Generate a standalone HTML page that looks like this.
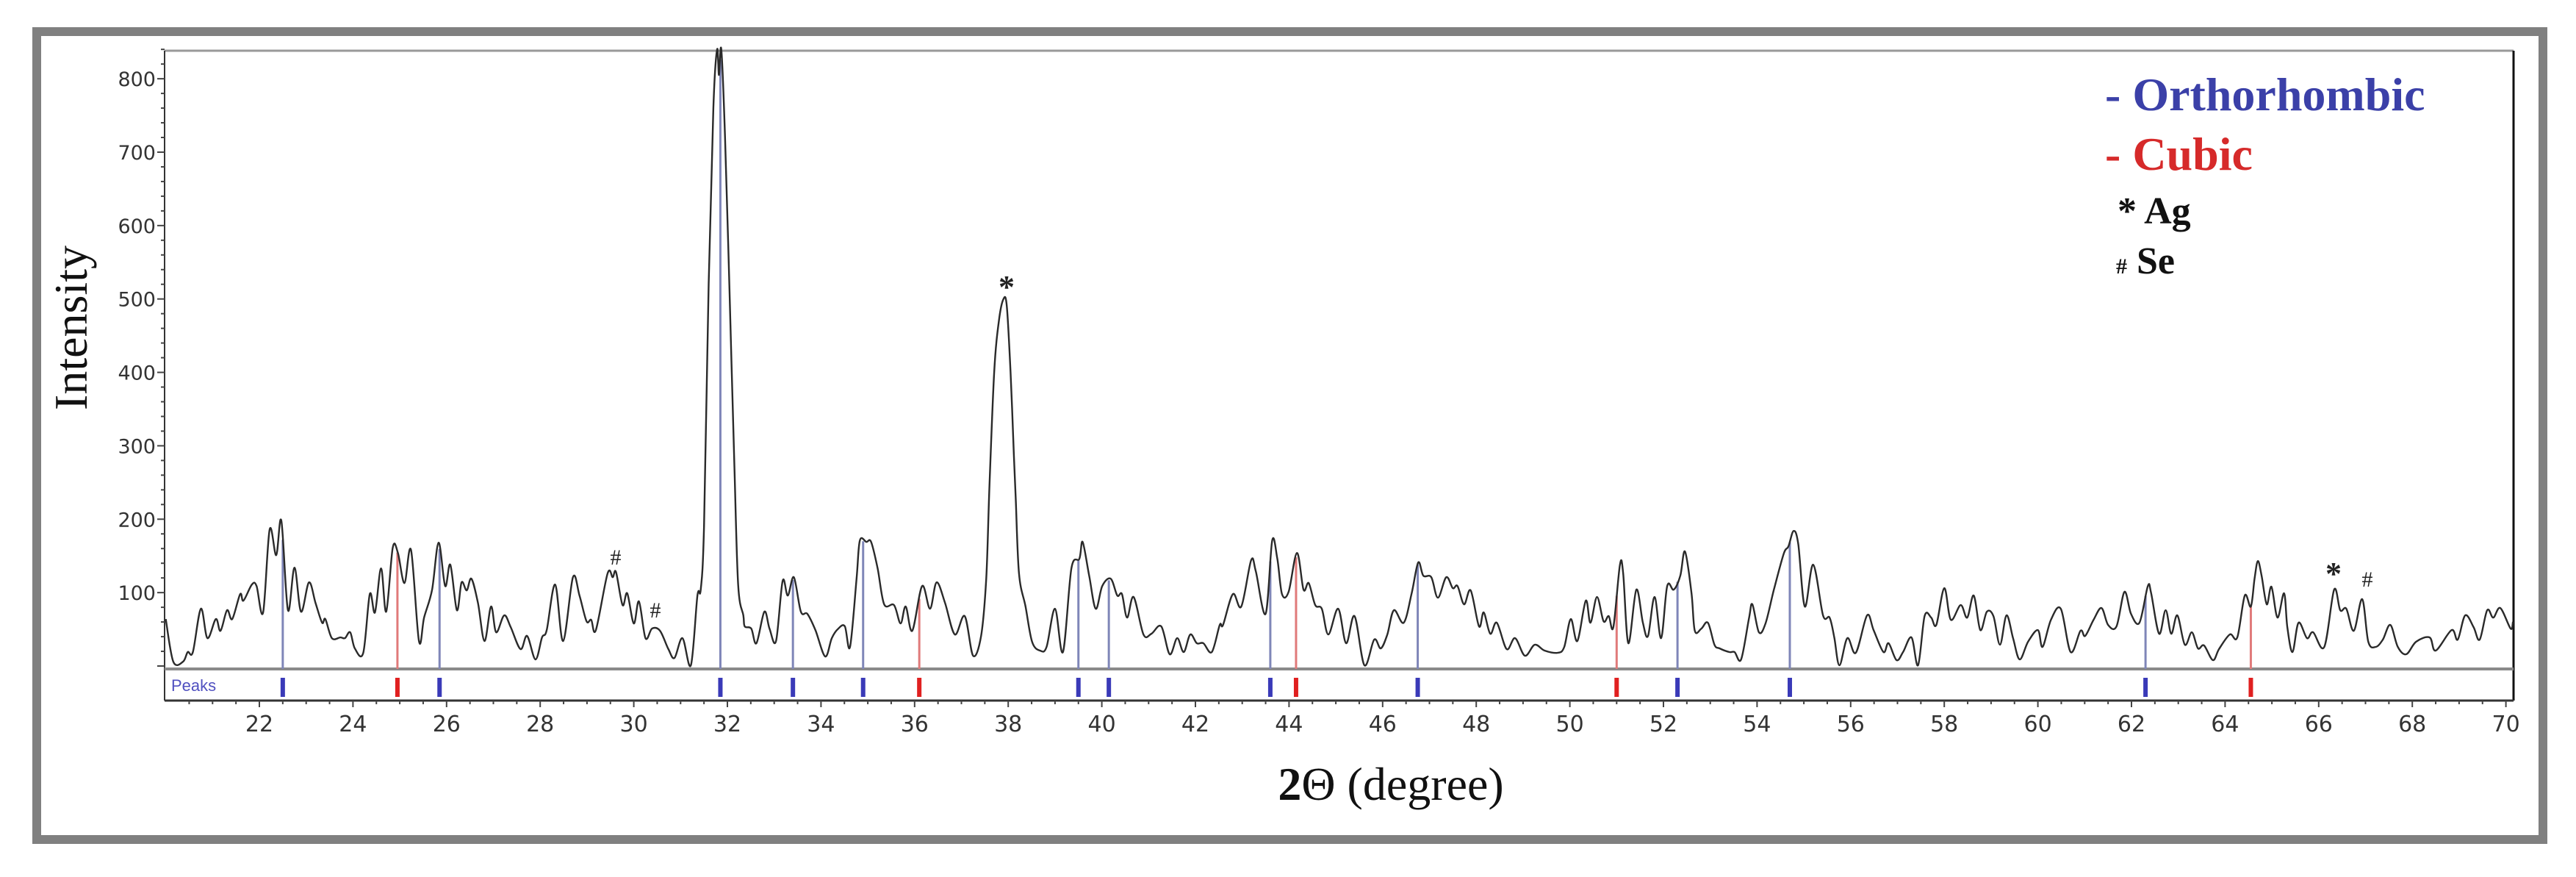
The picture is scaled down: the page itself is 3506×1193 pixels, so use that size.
<!DOCTYPE html>
<html><head><meta charset="utf-8"><style>
html,body{margin:0;padding:0;background:#fff;}
svg{display:block;}
</style></head><body>
<svg id="chart" width="3506" height="1193" viewBox="0 0 3506 1193" xmlns="http://www.w3.org/2000/svg">
<rect x="50" y="43" width="3411" height="1099" fill="none" stroke="#808080" stroke-width="12"/>
<g id="grid"></g>
<g id="marks"></g>
<text x="0" y="0" transform="translate(118,446) rotate(-90)" text-anchor="middle" font-family="Liberation Serif, serif" font-size="64" fill="#111">Intensity</text>
<text x="1893" y="1088" text-anchor="middle" font-family="Liberation Serif, serif" font-size="64" fill="#111"><tspan font-weight="bold">2</tspan>Θ (degree)</text>
<text x="233" y="940" font-family="Liberation Sans, sans-serif" font-size="22" fill="#5050c0">Peaks</text>
<g font-family="Liberation Serif, serif" font-weight="bold">
<text x="2865" y="150" font-size="64" fill="#3b40a8">- Orthorhombic</text>
<text x="2865" y="231" font-size="64" fill="#d62a2a">- Cubic</text>
<text x="2882" y="304" font-size="52" fill="#111">* Ag</text>
<text x="2880" y="372" font-size="52" fill="#111"><tspan font-size="30">#</tspan> Se</text>
</g>
<g font-family="Liberation Serif, serif" fill="#222">
<text x="1370" y="405" font-size="44" font-weight="bold" text-anchor="middle">*</text>
<text x="838" y="768" font-size="30" text-anchor="middle">#</text>
<text x="892" y="840" font-size="30" text-anchor="middle">#</text>
<text x="3176" y="795" font-size="44" font-weight="bold" text-anchor="middle">*</text>
<text x="3222" y="798" font-size="30" text-anchor="middle">#</text>
</g>
</svg>
<script>
const twoTheta = [20.00,20.16,20.37,20.47,20.58,20.75,20.89,21.07,21.17,21.31,21.42,21.59,21.66,21.84,21.94,22.08,22.22,22.36,22.47,22.61,22.75,22.89,23.06,23.20,23.34,23.41,23.55,23.73,23.83,23.94,24.04,24.22,24.36,24.47,24.60,24.71,24.85,24.96,25.10,25.24,25.41,25.52,25.69,25.83,25.97,26.08,26.22,26.32,26.43,26.53,26.67,26.81,26.95,27.06,27.23,27.37,27.58,27.72,27.90,28.04,28.14,28.32,28.49,28.70,28.84,28.99,29.09,29.19,29.44,29.55,29.62,29.76,29.86,30.00,30.11,30.25,30.39,30.56,30.74,30.87,31.04,31.22,31.36,31.43,31.50,31.60,31.70,31.78,31.82,31.87,31.95,32.05,32.15,32.23,32.34,32.37,32.51,32.62,32.79,32.90,33.04,33.18,33.29,33.42,33.57,33.71,33.88,34.09,34.23,34.37,34.51,34.62,34.76,34.83,34.97,35.07,35.21,35.35,35.56,35.70,35.81,35.95,36.16,36.33,36.47,36.65,36.86,37.07,37.25,37.42,37.53,37.60,37.70,37.80,37.90,37.97,38.05,38.12,38.16,38.23,38.37,38.51,38.68,38.82,39.00,39.17,39.35,39.52,39.59,39.73,39.87,40.01,40.19,40.33,40.43,40.54,40.68,40.89,41.06,41.27,41.45,41.61,41.75,41.89,42.03,42.17,42.35,42.52,42.59,42.80,42.98,43.19,43.29,43.50,43.64,43.75,43.85,43.99,44.17,44.31,44.42,44.56,44.70,44.84,45.05,45.22,45.40,45.61,45.82,45.96,46.10,46.24,46.45,46.62,46.76,46.87,47.04,47.18,47.36,47.50,47.60,47.74,47.88,48.06,48.16,48.30,48.44,48.65,48.83,49.04,49.25,49.46,49.74,49.88,50.02,50.16,50.34,50.44,50.58,50.72,50.83,50.93,51.07,51.14,51.25,51.42,51.56,51.67,51.81,51.95,52.08,52.22,52.36,52.46,52.60,52.67,52.81,52.95,53.09,53.20,53.41,53.52,53.66,53.83,53.90,54.04,54.18,54.36,54.57,54.67,54.78,54.88,55.02,55.20,55.41,55.55,55.65,55.76,55.93,56.11,56.35,56.49,56.70,56.81,56.98,57.12,57.30,57.44,57.58,57.72,57.83,58.00,58.14,58.35,58.49,58.63,58.77,58.91,59.05,59.19,59.33,59.47,59.61,59.79,60.00,60.10,60.28,60.49,60.70,60.91,61.01,61.19,61.36,61.50,61.68,61.85,61.99,62.17,62.35,62.42,62.59,62.73,62.85,62.98,63.14,63.29,63.42,63.55,63.74,63.87,64.10,64.26,64.42,64.55,64.63,64.70,64.78,64.89,64.99,65.12,65.26,65.33,65.44,65.57,65.75,65.88,66.12,66.33,66.46,66.59,66.75,66.93,67.06,67.22,67.37,67.53,67.69,67.87,68.08,68.37,68.50,68.84,68.97,69.13,69.31,69.44,69.60,69.73,69.88,70.10,70.15];
const intensity = [64,6,6,19,19,78,38,64,48,76,64,98,89,111,109,73,186,151,198,76,134,74,114,86,59,64,38,39,38,46,24,18,98,73,133,74,161,154,113,158,34,66,104,168,109,138,76,114,103,119,86,34,81,46,69,53,23,41,9,39,49,111,34,121,96,61,63,49,126,121,128,83,99,58,88,38,51,48,23,11,38,1,96,104,190,520,760,840,805,840,720,500,270,110,69,54,51,31,74,51,34,116,96,121,74,71,49,13,38,51,54,26,119,171,169,169,133,84,83,58,81,48,109,78,114,86,43,68,14,41,119,246,400,470,500,490,400,290,229,126,81,33,21,26,78,19,133,146,169,123,78,109,119,96,98,66,94,43,44,54,16,38,19,43,31,31,19,56,56,98,81,144,129,71,171,146,98,101,154,104,113,83,78,43,78,31,68,1,36,24,43,76,59,99,141,123,121,93,121,106,109,84,103,54,73,44,59,23,38,14,29,21,18,26,64,34,89,59,94,61,68,53,138,126,31,104,59,41,94,38,109,104,123,156,99,48,51,59,29,24,19,19,9,66,84,46,58,104,153,163,184,166,81,138,69,66,39,1,38,18,69,49,19,31,8,19,39,1,68,66,56,106,63,83,66,96,49,74,68,29,69,38,9,33,49,26,63,78,19,48,41,63,79,56,54,101,71,59,109,99,44,76,44,69,29,46,24,28,8,23,43,39,96,81,119,143,123,84,108,66,99,53,19,59,38,46,26,104,76,78,48,91,33,26,36,56,26,16,33,39,21,49,36,69,53,36,76,66,79,51,60];
const orthoPeaks = [22.5,25.85,31.85,33.4,34.9,39.5,40.15,43.6,46.75,52.3,54.7,62.3];
const cubicPeaks = [24.95,36.1,44.15,51.0,64.55];
const xTicks = [22,24,26,28,30,32,34,36,38,40,42,44,46,48,50,52,54,56,58,60,62,64,66,68,70];
const yTicks = [100,200,300,400,500,600,700,800];

const NS = 'http://www.w3.org/2000/svg';
const X0 = 225.6, PXD = 63.7, Y0 = 906, PXV = 0.9986;
const L = 224, R = 3421, T = 69, B = 953, BASE = 910;
function xs(d){ return X0 + (d - 20) * PXD; }
function ys(v){ return Y0 - v * PXV; }
function mk(tag, attrs, parent){
  const e = document.createElementNS(NS, tag);
  for (const k in attrs) e.setAttribute(k, attrs[k]);
  parent.appendChild(e);
  return e;
}
function interp(d){
  for (let i = 1; i < twoTheta.length; i++) {
    if (twoTheta[i] >= d) {
      const t = (d - twoTheta[i-1]) / (twoTheta[i] - twoTheta[i-1]);
      return intensity[i-1] + t * (intensity[i] - intensity[i-1]);
    }
  }
  return intensity[intensity.length-1];
}
const grid = document.getElementById('grid');
const marks = document.getElementById('marks');

let e;
e = mk('line', {x1:L, y1:T, x2:R, y2:T, stroke:'#999', 'stroke-width':3}, grid);


e = mk('line', {x1:R, y1:T, x2:R, y2:B, stroke:'#111', 'stroke-width':3}, grid);


e = mk('line', {x1:L, y1:T, x2:L, y2:B, stroke:'#333', 'stroke-width':2}, grid);


e = mk('line', {x1:L, y1:B, x2:R, y2:B, stroke:'#333', 'stroke-width':3}, grid);


e = mk('line', {x1:L, y1:BASE, x2:R, y2:BASE, stroke:'#8a8a8a', 'stroke-width':4}, grid);



for (let v = 0; v <= 840; v += 20) {
  const major = v % 100 === 0;
  e = mk('line', {x1:L - (major ? 10 : 5), y1:ys(v), x2:L, y2:ys(v), stroke:'#444', 'stroke-width':2}, grid);
  
  
}
yTicks.forEach(v => {
  e = mk('text', {x:212, y:ys(v) + 10, 'text-anchor':'end', 'font-family':'DejaVu Sans, sans-serif', 'font-size':27, fill:'#333'}, grid);
  e.textContent = v;
  
  
});
for (let d = 20.5; d <= 70; d += 0.5) {
  const major = Math.abs(d - Math.round(d)) < 1e-6 && Math.round(d) % 2 === 0;
  e = mk('line', {x1:xs(d), y1:B, x2:xs(d), y2:B + (major ? 9 : 5), stroke:'#444', 'stroke-width':2}, grid);
  
  
}
xTicks.forEach(d => {
  e = mk('text', {x:xs(d), y:995, 'text-anchor':'middle', 'font-family':'DejaVu Sans, sans-serif', 'font-size':30, fill:'#333'}, grid);
  e.textContent = d;
  
  
});

function drawPeaks(list, lineCol, markCol, name){
  list.forEach(p => {
    let l = mk('line', {x1:xs(p), y1:BASE, x2:xs(p), y2:ys(interp(p)), stroke:lineCol, 'stroke-width':3}, marks);
    
    
    let r = mk('rect', {x:xs(p) - 3, y:922, width:6, height:26, fill:markCol}, marks);
    
    
  });
}
drawPeaks(orthoPeaks, '#7f86b8', '#3a3ab8', 'orthorhombic');
drawPeaks(cubicPeaks, '#e07a7a', '#e02020', 'cubic');

// smooth Catmull-Rom path through data points
const px = twoTheta.map(xs), py = intensity.map(ys);
let dstr = 'M' + px[0].toFixed(1) + ' ' + py[0].toFixed(1);
for (let i = 0; i < px.length - 1; i++) {
  const i0 = Math.max(0, i - 1), i3 = Math.min(px.length - 1, i + 2);
  const c1x = px[i] + (px[i+1] - px[i0]) / 6, c1y = py[i] + (py[i+1] - py[i0]) / 6;
  const c2x = px[i+1] - (px[i3] - px[i]) / 6, c2y = py[i+1] - (py[i3] - py[i]) / 6;
  dstr += 'C' + c1x.toFixed(1) + ' ' + c1y.toFixed(1) + ' ' + c2x.toFixed(1) + ' ' + c2y.toFixed(1) + ' ' + px[i+1].toFixed(1) + ' ' + py[i+1].toFixed(1);
}
const path = mk('path', {d:dstr, fill:'none', stroke:'#2a2a2a', 'stroke-width':2.4, 'stroke-linejoin':'round'}, marks);


</script>
</body></html>
